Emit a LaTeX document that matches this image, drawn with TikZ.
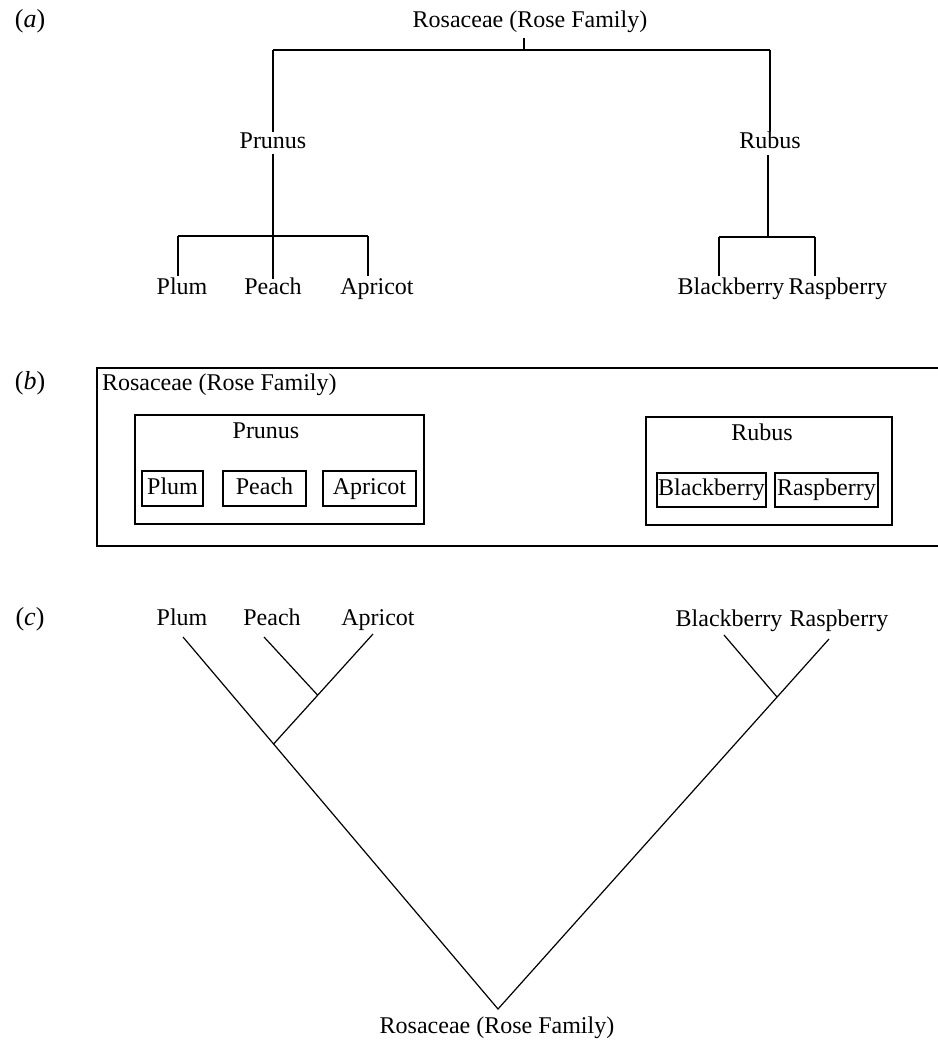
\documentclass[tikz,border=0pt]{standalone}
\usepackage{fontspec}
\setmainfont{Liberation Serif}
\begin{document}
\begin{tikzpicture}[x=1pt,y=-1pt,
  every node/.style={inner sep=0pt,outer sep=0pt},
  lbl/.style={font=\fontsize{24}{28}\selectfont,text height=16pt,text depth=5pt},
  part/.style={font=\fontsize{26}{30}\selectfont,text height=17pt,text depth=6pt},
  box/.style={draw,line width=1.2pt,rectangle},
  ln/.style={line width=1.2pt}]
\useasboundingbox (0,0) rectangle (937,1046);
% ---------- (a) ----------
\node[part] (pa) at (30,22) {(\textit{a})};
\node[lbl] (aroot) at (530,22) {Rosaceae (Rose Family)};
\node[lbl] (aprunus) at (273,143) {Prunus};
\node[lbl] (arubus) at (770,143) {Rubus};
\node[lbl] (aplum) at (182,289) {Plum};
\node[lbl] (apeach) at (273,289) {Peach};
\node[lbl] (aapricot) at (377,289) {Apricot};
\node[lbl] (ablack) at (731,289) {Blackberry};
\node[lbl] (arasp) at (838,289) {Raspberry};
\coordinate (tick) at (524,50);
\coordinate (barL) at (273,50);
\coordinate (barR) at (770,50);
\draw[ln] (524,38) -- (tick);
\draw[ln] (barL) -- (barR);
\draw[ln] (barL) -- (aprunus.north);
\draw[ln] (barR) -- (arubus.north);
\coordinate (pbar) at (273,236);
\coordinate (pbarL) at (178,236);
\coordinate (pbarR) at (368,236);
\draw[ln] (aprunus.south) -- (apeach.north);
\draw[ln] (pbarL) -- (pbarR);
\draw[ln] (pbarL) -- (178,276);
\draw[ln] (pbarR) -- (368,276);
\coordinate (rbar) at (768,237);
\coordinate (rbarL) at (719,237);
\coordinate (rbarR) at (815,237);
\draw[ln] (768,155) -- (rbar);
\draw[ln] (rbarL) -- (rbarR);
\draw[ln] (rbarL) -- (719,276);
\draw[ln] (rbarR) -- (815,276);
% ---------- (b) ----------
\node[part] (pb) at (30,384) {(\textit{b})};
\node[box,minimum width=843pt,minimum height=178pt] (bout) at (518.5,457) {};
\node[lbl,anchor=west] (broot) at (102,385) {Rosaceae (Rose Family)};
\node[box,minimum width=289pt,minimum height=109pt] (bprunusbox) at (279.5,469.5) {};
\node[lbl] (bprunus) at (266,433) {Prunus};
\node[box,lbl,minimum width=61pt,minimum height=35pt] (bplum) at (172.5,488.5) {Plum};
\node[box,lbl,minimum width=83pt,minimum height=35pt] (bpeach) at (264.5,488.5) {Peach};
\node[box,lbl,minimum width=93pt,minimum height=35pt] (bapricot) at (369.5,488.5) {Apricot};
\node[box,minimum width=246pt,minimum height=108pt] (brubusbox) at (769,471) {};
\node[lbl] (brubus) at (762,435) {Rubus};
\node[box,lbl,minimum width=109pt,minimum height=34pt] (bblack) at (711.5,490) {Blackberry};
\node[box,lbl,minimum width=103pt,minimum height=34pt] (brasp) at (826.5,490) {Raspberry};
% ---------- (c) ----------
\node[part] (pc) at (30,620) {(\textit{c})};
\node[lbl] (cplum) at (182,620) {Plum};
\node[lbl] (cpeach) at (272,620) {Peach};
\node[lbl] (capricot) at (378,620) {Apricot};
\node[lbl] (cblack) at (729,621) {Blackberry};
\node[lbl] (crasp) at (839,621) {Raspberry};
\node[lbl] (croot) at (497,1028) {Rosaceae (Rose Family)};
\coordinate (V) at (498,1009);
\coordinate (plumtop) at (183,637);
\coordinate (peachtop) at (264,637);
\coordinate (aprtop) at (373,634);
\coordinate (blacktop) at (724,635);
\coordinate (rasptop) at (829,639);
\coordinate (J1) at (273.6,744);
\coordinate (J2) at (317.5,695);
\coordinate (J3) at (777,697);
\draw[ln] (plumtop) -- (V) -- (rasptop);
\draw[ln] (aprtop) -- (J1);
\draw[ln] (peachtop) -- (J2);
\draw[ln] (blacktop) -- (J3);
\end{tikzpicture}
\end{document}
